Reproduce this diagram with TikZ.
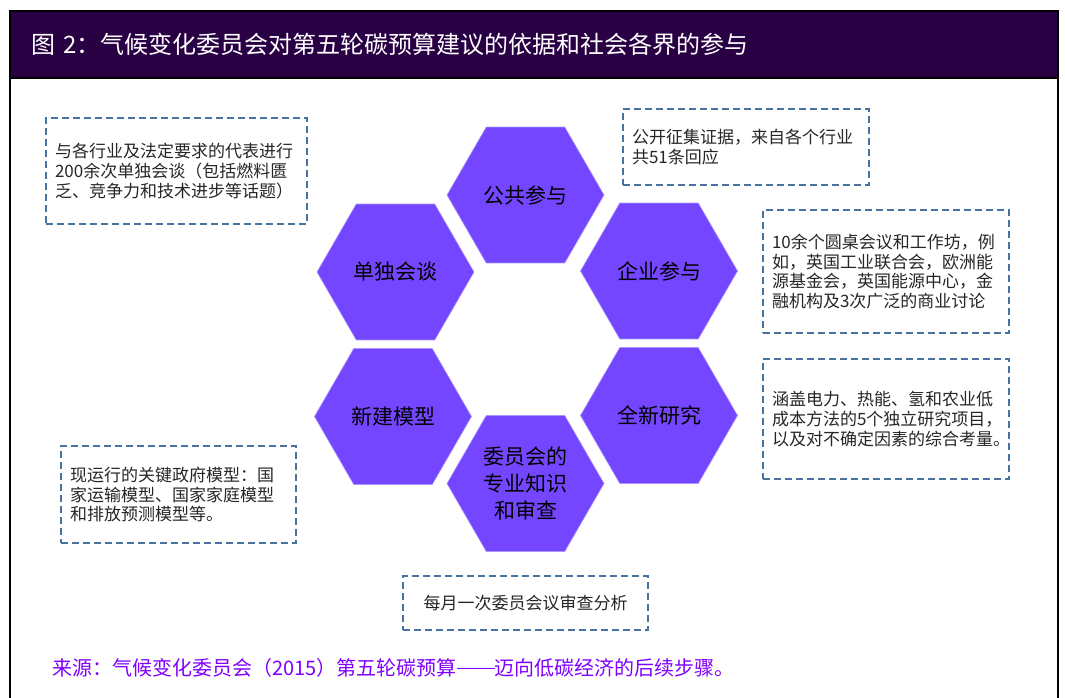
\documentclass[tikz,border=0pt]{standalone}
\usepackage{fontspec}
\setmainfont{Noto Sans CJK SC}
\usetikzlibrary{shapes.geometric}
\definecolor{hdrpurple}{RGB}{42,0,68}
\definecolor{hexviolet}{RGB}{116,70,255}
\definecolor{hexrim}{RGB}{170,150,255}
\definecolor{dashblue}{RGB}{70,115,160}
\definecolor{srcviolet}{RGB}{128,0,255}
\definecolor{boxtext}{RGB}{38,38,38}

\begin{document}
\begin{tikzpicture}[x=1pt,y=-1pt,
  hexcell/.style={regular polygon,regular polygon sides=6,minimum size=157pt,inner sep=0pt,
    fill=hexviolet,draw=hexrim,line width=0.6pt,align=center,font=\fontsize{21pt}{27pt}\selectfont},
  notebox/.style={draw=dashblue,line width=1.6pt,dash pattern=on 7pt off 4pt,align=left,
    inner xsep=9pt,text=boxtext,font=\fontsize{17pt}{19.7pt}\selectfont}]
				\useasboundingbox (0,0) rectangle (1065,698);
				
				\draw[line width=2pt,fill=hdrpurple] (10,11) rectangle (1058,78);
				\draw[line width=2pt] (10,78) -- (10,698);
				\draw[line width=2pt] (1058,78) -- (1058,698);
				\node[anchor=west,inner sep=0pt,text=white,font=\fontsize{24pt}{28pt}\selectfont] (title) at (31,44) {图\,\,2：气候变化委员会对第五轮碳预算建议的依据和社会各界的参与};
				
				\node[hexcell] (pub) at (525.5,195) {公共参与};
				\node[hexcell] (talk) at (395.5,272) {单独会谈};
				\node[hexcell] (biz) at (659,271) {企业参与};
				\node[hexcell] (model) at (393,416.5) {新建模型};
				\node[hexcell] (study) at (659,415.5) {全新研究};
				\node[hexcell] (ccc) at (525.5,483.5) {委员会的\\专业知识\\和审查};
				
				\node[notebox,text width=243pt,minimum height=106pt] (talknote) at (176.5,171) {与各行业及法定要求的代表进行\\200余次单独会谈（包括燃料匮\\乏、竞争力和技术进步等话题）};
				\node[notebox,text width=228pt,minimum height=76pt] (pubnote) at (746,147) {公开征集证据，来自各个行业\\共51条回应};
				\node[notebox,text width=228pt,minimum height=123pt] (biznote) at (886,271.5) {10余个圆桌会议和工作坊，例\\如，英国工业联合会，欧洲能\\源基金会，英国能源中心，金\\融机构及3次广泛的商业讨论};
				\node[notebox,text width=228pt,minimum height=120pt] (studynote) at (886,419) {涵盖电力、热能、氢和农业低\\成本方法的5个独立研究项目，\\以及对不确定因素的综合考量。};
				\node[notebox,text width=217pt,minimum height=97pt] (modelnote) at (178.5,494.5) {现运行的关键政府模型：国\\家运输模型、国家家庭模型\\和排放预测模型等。};
				\node[notebox,align=center,minimum width=245pt,minimum height=54pt] (cccnote) at (525.5,603) {每月一次委员会议审查分析};
				
				\node[anchor=west,inner sep=0pt,text=srcviolet,font=\fontsize{20pt}{24pt}\selectfont] (source) at (52,668) {来源：气候变化委员会（2015）第五轮碳预算\rule[0.33em]{1.9em}{0.06em}迈向低碳经济的后续步骤。};
			\end{tikzpicture}
\end{document}
